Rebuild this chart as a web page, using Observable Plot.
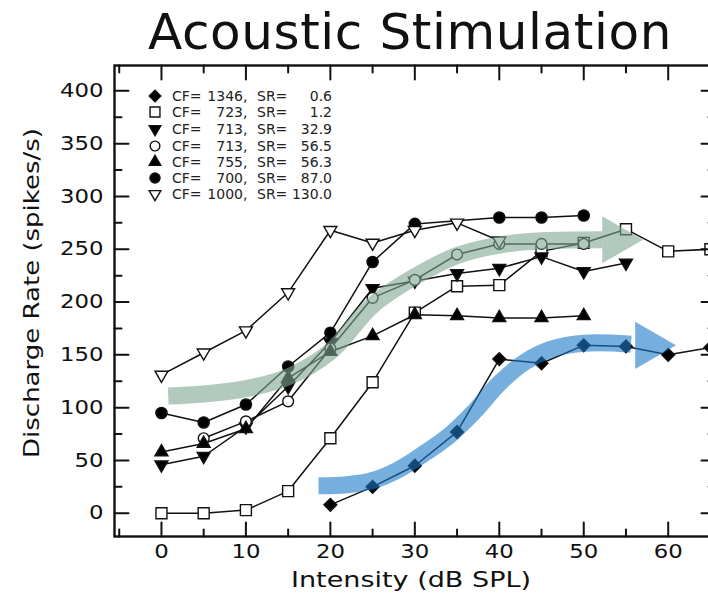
<!DOCTYPE html>
<html><head><meta charset="utf-8">
<script src="https://cdn.jsdelivr.net/npm/d3@7"></script>
<script src="https://cdn.jsdelivr.net/npm/@observablehq/plot@0.6"></script>
<style>
html,body{margin:0;padding:0;background:#fff;overflow:hidden;}
#wrap{position:relative;width:708px;height:596px;overflow:hidden;font-family:"DejaVu Sans",sans-serif;}
#chart{position:absolute;left:0;top:0;width:720px;height:596px;}
#chart svg{max-width:none !important;width:720px !important;height:596px !important;}
#title{position:absolute;left:0;width:820px;top:3px;text-align:center;font-size:50px;letter-spacing:0.6px;color:#111;white-space:nowrap;}
#legend{position:absolute;left:0;top:0;font-size:14px;color:#222;}
#legend .row{position:absolute;height:16px;}
#legend span{position:absolute;white-space:nowrap;line-height:16px;}
</style></head><body>
<div id="wrap"><div id="chart"></div><div id="title">Acoustic Stimulation</div><div id="legend"></div></div>
<script>
// ---- data ----
const legendCF = [1346, 723, 713, 713, 755, 700, 1000];
const legendSR = ["0.6", "1.2", "32.9", "56.5", "56.3", "87.0", "130.0"];

const diamondDb   = [20, 25, 30, 35, 40, 45, 50, 55, 60, 65];
const diamondRate = [8, 25, 45, 77, 146, 142, 159, 158, 150, 157];

const squareDb   = [0, 5, 10, 15, 20, 25, 30, 35, 40, 45, 50, 55, 60, 65];
const squareRate = [0, 0, 3, 21, 71, 124, 190, 215, 216, 248, 256, 269, 248, 250];

const triDownFilledDb   = [0, 5, 10, 15, 20, 25, 30, 35, 40, 45, 50, 55];
const triDownFilledRate = [46, 54, 82, 120, 162, 213, 220, 227, 232, 243, 229, 237];

const circleOpenDb   = [5, 10, 15, 20, 25, 30, 35, 40, 45, 50];
const circleOpenRate = [71, 87, 106, 156, 204, 221, 245, 255, 255, 255];

const triUpFilledDb   = [0, 5, 10, 15, 20, 25, 30, 35, 40, 45, 50];
const triUpFilledRate = [58, 66, 80, 128, 153, 168, 188, 187, 185, 185, 187];

const circleFilledDb   = [0, 5, 10, 15, 20, 25, 30, 40, 45, 50];
const circleFilledRate = [95, 86, 103, 139, 171, 238, 274, 280, 280, 282];

const triDownOpenDb   = [0, 5, 10, 15, 20, 25, 30, 35, 40];
const triDownOpenRate = [131, 152, 173, 209, 268, 256, 268, 275, 258];

// highlight arrows (annotation paths)
const greenArrowDb   = [0.8, 5, 10, 15, 20, 25, 30, 35, 40, 45, 52.2];
const greenArrowRate = [111, 113, 118, 129, 153, 197, 224, 244, 254, 258, 259];
const greenHeadDb = [53.8], greenHeadRate = [259];
const blueArrowDb   = [18.6, 22, 25, 28, 31, 34, 37, 40, 43, 46, 50, 55.6];
const blueArrowRate = [26, 27, 31, 41, 56, 73, 96, 123, 143, 155, 161, 160];
const blueHeadDb = [57.7], blueHeadRate = [159];

const xMajor = [0, 10, 20, 30, 40, 50, 60];
const xMinor = [-5, 5, 15, 25, 35, 45, 55, 65];
const yMajor = [0, 50, 100, 150, 200, 250, 300, 350, 400];
const yMinor = [25, 75, 125, 175, 225, 275, 325, 375];

// ---- symbols ----
const s3 = Math.sqrt(3);
const triDown = {draw(c, size){const y=-Math.sqrt(size/(s3*3)); c.moveTo(0,-2*y); c.lineTo(s3*y,y); c.lineTo(-s3*y,y); c.closePath();}};
const triRight = {draw(c, size){const y=-Math.sqrt(size/(s3*3)); c.moveTo(-2*y,0); c.lineTo(y,-s3*y); c.lineTo(y,s3*y); c.closePath();}};
const tickShape = {draw(c, l){c.moveTo(0, 0); c.lineTo(0, -l);}};

const series = [
  {db: diamondDb, rate: diamondRate, symbol: "diamond2", fill: "black", r: 5.8},
  {db: squareDb, rate: squareRate, symbol: "square", fill: "white", r: 6.2},
  {db: triDownFilledDb, rate: triDownFilledRate, symbol: triDown, fill: "black", r: 4.8},
  {db: circleOpenDb, rate: circleOpenRate, symbol: "circle", fill: "white", r: 5.4},
  {db: triUpFilledDb, rate: triUpFilledRate, symbol: "triangle", fill: "black", r: 4.8},
  {db: circleFilledDb, rate: circleFilledRate, symbol: "circle", fill: "black", r: 5.6},
  {db: triDownOpenDb, rate: triDownOpenRate, symbol: triDown, fill: "white", r: 4.8}
];
const toRows = (xs, ys) => xs.map((x, i) => ({x, y: ys[i]}));

const lineMarks = series.map(s => Plot.line(toRows(s.db, s.rate), {x: "x", y: "y", stroke: "#111", strokeWidth: 1.5}));
const dotMarks = series.map(s => Plot.dot(toRows(s.db, s.rate), {x: "x", y: "y", symbol: () => s.symbol, r: s.r, fill: s.fill, stroke: "#111", strokeWidth: 1.4}));

const green = "#7fa691", blue = "#1a78c8", bandOpacity = 0.6;
const tick = (data, chan, frameAnchor, rotate, length) =>
  Plot.vector(data, {[chan]: d => d, frameAnchor, rotate, length, anchor: "start", shape: tickShape, stroke: "#111", strokeWidth: 2});

const chart = Plot.plot({
  width: 720, height: 596,
  marginTop: 65, marginBottom: 60, marginLeft: 114, marginRight: 5,
  style: {fontFamily: "DejaVu Sans, sans-serif", fontSize: "18px", color: "#111", background: "white"},
  x: {domain: [-5.56, 65.6], ticks: xMajor, tickSize: 0, tickPadding: 8, label: null},
  y: {domain: [-22, 424], ticks: yMajor, tickSize: 0, tickPadding: 11, label: null},
  symbol: {type: "identity"},
  marks: [
    ...lineMarks,
    ...dotMarks,
    Plot.line(toRows(greenArrowDb, greenArrowRate), {x: "x", y: "y", curve: "catmull-rom", stroke: green, strokeWidth: 17, strokeOpacity: bandOpacity, strokeLinecap: "butt"}),
    Plot.dot(toRows(greenHeadDb, greenHeadRate), {x: "x", y: "y", symbol: () => triRight, r: 17.5, fill: green, fillOpacity: bandOpacity}),
    Plot.line(toRows(blueArrowDb, blueArrowRate), {x: "x", y: "y", curve: "catmull-rom", stroke: blue, strokeWidth: 17, strokeOpacity: bandOpacity, strokeLinecap: "butt"}),
    Plot.dot(toRows(blueHeadDb, blueHeadRate), {x: "x", y: "y", symbol: () => triRight, r: 17.5, fill: blue, fillOpacity: bandOpacity}),
    // inward ticks
    tick(yMajor, "y", "left", 90, 14),
    tick(yMinor, "y", "left", 90, 7),
    tick(yMajor, "y", "right", -90, 14),
    tick(yMinor, "y", "right", -90, 7),
    tick(xMajor, "x", "bottom", 0, 14),
    tick(xMinor, "x", "bottom", 0, 7),
    tick(xMajor, "x", "top", 180, 14),
    tick(xMinor, "x", "top", 180, 7),
    Plot.frame({stroke: "#111", strokeWidth: 2.4}),
    Plot.axisX({ticks: xMajor, tickSize: 0, tickPadding: 8, label: null, fontSize: 19, className: "xticklab"}),
    Plot.axisY({ticks: yMajor, tickSize: 0, tickPadding: 11, label: null, fontSize: 19, className: "yticklab"}),
    Plot.text(["Discharge Rate (spikes/s)"], {frameAnchor: "left", textAnchor: "middle", lineAnchor: "middle", rotate: -90, dx: -82, dy: -8, fontSize: 21, fill: "#111", className: "ytitle"}),
    Plot.text(["Intensity (dB SPL)"], {frameAnchor: "bottom", textAnchor: "middle", lineAnchor: "middle", dy: 44, dx: -4, fontSize: 21, fill: "#111", className: "xtitle"})
  ]
});
document.getElementById("chart").appendChild(chart);

// widen lettering to match the reference's wide geometric face
function stretch(sel, factor, target) {
  chart.querySelectorAll(sel).forEach(t => {
    const w = t.getComputedTextLength();
    if (w > 0) { t.setAttribute("textLength", target || w * factor); t.setAttribute("lengthAdjust", "spacingAndGlyphs"); }
  });
}
stretch(".xticklab text", 1.2);
stretch(".yticklab text", 1.2);
stretch(".xtitle text", 0, 240);
chart.querySelectorAll(".ytitle text").forEach(t => {
  const w = t.getComputedTextLength();
  const tr = t.getAttribute("transform");
  if (w > 0 && tr) t.setAttribute("transform", tr + ` scale(${330 / w},1)`);
});

// ---- legend (HTML overlay inside the frame) ----
const legend = document.getElementById("legend");
const rowY = [96, 112, 129, 146, 162, 178, 194];
series.forEach((s, i) => {
  const row = document.createElement("div");
  row.className = "row";
  row.style.left = "0px"; row.style.top = (rowY[i] - 8) + "px";
  const sz = Math.PI * (s.r * 0.9) ** 2;
  const symObj = typeof s.symbol === "string" ? {diamond2: d3.symbolDiamond2, square: d3.symbolSquare, circle: d3.symbolCircle, triangle: d3.symbolTriangle}[s.symbol] : s.symbol;
  const path = d3.symbol(symObj, sz)();
  row.innerHTML =
    `<svg width="20" height="16" style="position:absolute;left:145px;top:0"><path transform="translate(10,8)" d="${path}" fill="${s.fill}" stroke="#111" stroke-width="1.4"/></svg>` +
    `<span style="left:172px">CF=</span>` +
    `<span style="right:${708 - 243}px">${legendCF[i]}</span>` +
    `<span style="left:243px">,</span>` +
    `<span style="left:257px">SR=</span>` +
    `<span style="right:${708 - 332}px">${legendSR[i]}</span>`;
  row.style.width = "708px";
  legend.appendChild(row);
});
</script>
</body></html>
